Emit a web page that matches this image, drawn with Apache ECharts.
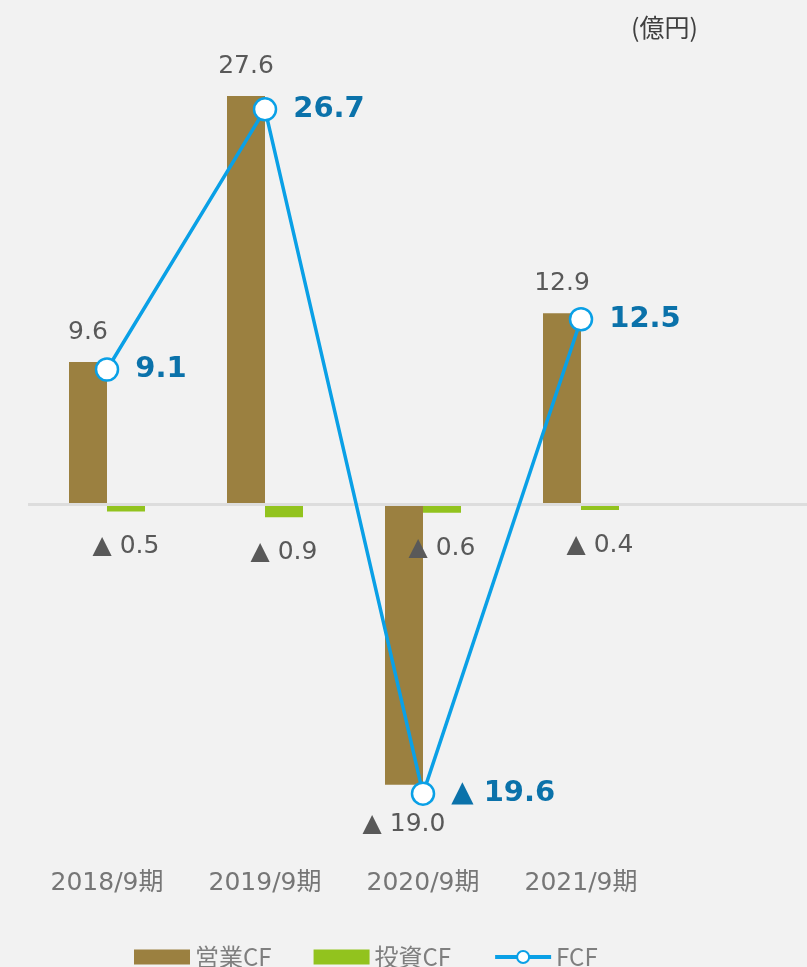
<!DOCTYPE html>
<html>
<head>
<meta charset="utf-8">
<script src="https://cdn.jsdelivr.net/npm/echarts@6/dist/echarts.min.js"></script>
<style>
html,body{margin:0;padding:0;background:#f2f2f2;}
#chart{width:807px;height:967px;}
</style>
</head>
<body>
<div id="chart"></div>
<script>
const categories = ['2018/9期', '2019/9期', '2020/9期', '2021/9期', ''];
const operatingCF = [9.6, 27.6, -19.0, 12.9];
const investingCF = [-0.5, -0.9, -0.6, -0.4];
const freeCF = [9.1, 26.7, -19.6, 12.5];
const seriesNames = ['営業CF', '投資CF', 'FCF'];
const unitLabel = '(億円)';

const FONT = '"DejaVu Sans", "Noto Sans CJK JP", sans-serif';
const fmt = v => v < 0 ? '▲ ' + (-v).toFixed(1) : v.toFixed(1);

const chart = echarts.init(document.getElementById('chart'));
chart.setOption({
  backgroundColor: '#f2f2f2',
  animation: false,
  textStyle: { fontFamily: FONT },
  title: {
    text: unitLabel,
    right: 104, top: 10,
    textStyle: { fontSize: 25, fontWeight: 'normal', color: '#404040', fontFamily: '"Noto Sans CJK JP", sans-serif' }
  },
  grid: { left: 28, width: 790, top: 60.6, height: 798.1, outerBoundsMode: 'none', containLabel: false },
  xAxis: {
    type: 'category',
    data: categories,
    axisLine: { show: false },
    axisTick: { show: false },
    axisLabel: { margin: 12, fontSize: 25, color: '#767676', fontFamily: FONT }
  },
  yAxis: {
    type: 'value', min: -24, max: 30,
    show: false,
    splitLine: { show: false }
  },
  legend: {
    left: 129, top: 940,
    itemWidth: 56, itemHeight: 15, itemGap: 42,
    textStyle: { fontSize: 24, color: '#7f7f7f', fontFamily: '"Noto Sans CJK JP", sans-serif' },
    data: [
      { name: seriesNames[0], icon: 'rect' },
      { name: seriesNames[1], icon: 'rect' },
      { name: seriesNames[2], lineStyle: { width: 4 } }
    ]
  },
  series: [
    {
      name: seriesNames[0],
      type: 'bar',
      barWidth: 38,
      barGap: '0%',
      itemStyle: { color: '#9b8040' },
      data: operatingCF.map(v => ({
        value: v,
        label: { position: v < 0 ? 'bottom' : 'top', distance: v < 0 ? 27 : 17 }
      })),
      label: {
        show: true, fontSize: 25, color: '#595959', fontFamily: FONT,
        formatter: p => fmt(p.value)
      },
      markLine: {
        silent: true,
        symbol: ['none', 'none'],
        label: { show: false },
        lineStyle: { color: '#dddddd', width: 3, type: 'solid' },
        data: [{ yAxis: 0 }]
      },
      z: 2
    },
    {
      name: seriesNames[1],
      type: 'bar',
      barWidth: 38,
      barGap: '0%',
      itemStyle: { color: '#92c31e' },
      data: investingCF.map(v => ({
        value: v,
        label: { position: v < 0 ? 'bottom' : 'top', distance: 23 }
      })),
      label: {
        show: true, fontSize: 25, color: '#595959', fontFamily: FONT,
        formatter: p => fmt(p.value)
      },
      z: 2
    },
    {
      name: seriesNames[2],
      type: 'line',
      data: freeCF,
      symbol: 'circle',
      symbolSize: 22,
      lineStyle: { color: '#0aa0e6', width: 3.5 },
      itemStyle: { color: '#ffffff', borderColor: '#0aa0e6', borderWidth: 2.5 },
      label: {
        show: true, position: 'right', distance: 16,
        fontSize: 29, fontWeight: 'bold', color: '#0b72aa', fontFamily: FONT,
        formatter: p => fmt(p.value)
      },
      z: 5
    }
  ]
});
</script>
</body>
</html>
